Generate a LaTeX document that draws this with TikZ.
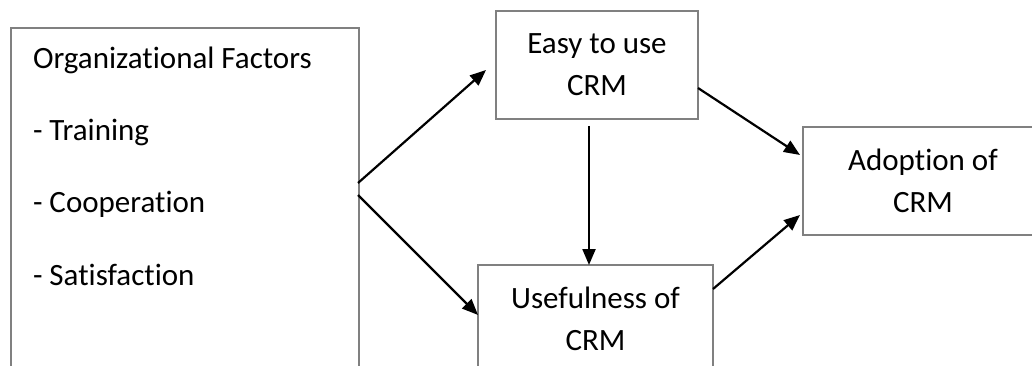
\documentclass[tikz,border=0pt]{standalone}
\usepackage{fontspec}
\setmainfont{Carlito}[Ligatures=NoCommon]
\usepackage{tikz}
\usetikzlibrary{positioning}
\usetikzlibrary{arrows.meta}
\usetikzlibrary{calc}

\begin{document}
\begin{tikzpicture}[x=1pt,y=-1pt,
	every node/.style={inner sep=0,outer sep=0,font=\fontsize{31}{42}\selectfont},
	box/.style={draw=black!50,line width=2pt,minimum height=108pt,align=center,anchor=north west},
	arr/.style={-{Triangle[length=16pt,width=13pt]},line width=2.2pt}]
	\useasboundingbox (0,0) rectangle (1032,366);
	\node (org) [box,minimum width=348pt,minimum height=360pt] at (11,28) {};
	\node (orgtxt) [anchor=base west,align=left,font=\fontsize{31}{72.3}\selectfont] at (33,285)
		{Organizational Factors\\- Training\\- Cooperation\\- Satisfaction};
	\node (easy) [box,minimum width=202pt] at (496,11) {Easy to use\\CRM};
	\node (useful) [box,minimum width=235pt] at (478,265) {Usefulness of\\CRM};
	\node (adopt) [box,minimum width=240pt] at (803,127) {Adoption of\\CRM};
	% connectors
	\draw[arr] ([shift={(-1,-25)}]org.east) -- ([shift={(-10,5)}]easy.west);
	\draw[arr] ([shift={(-1,-13)}]org.east) -- ([shift={(0,-4)}]useful.west);
	\draw[arr] ([shift={(-8,7)}]easy.south) -- ([xshift=-8pt]easy.south |- useful.north);
	\draw[arr] ([shift={(0,23)}]easy.east) -- ([shift={(-3,-26)}]adopt.west);
	\draw[arr] ([shift={(0,-30)}]useful.east) -- ([shift={(-3,34)}]adopt.west);
\end{tikzpicture}
\end{document}
